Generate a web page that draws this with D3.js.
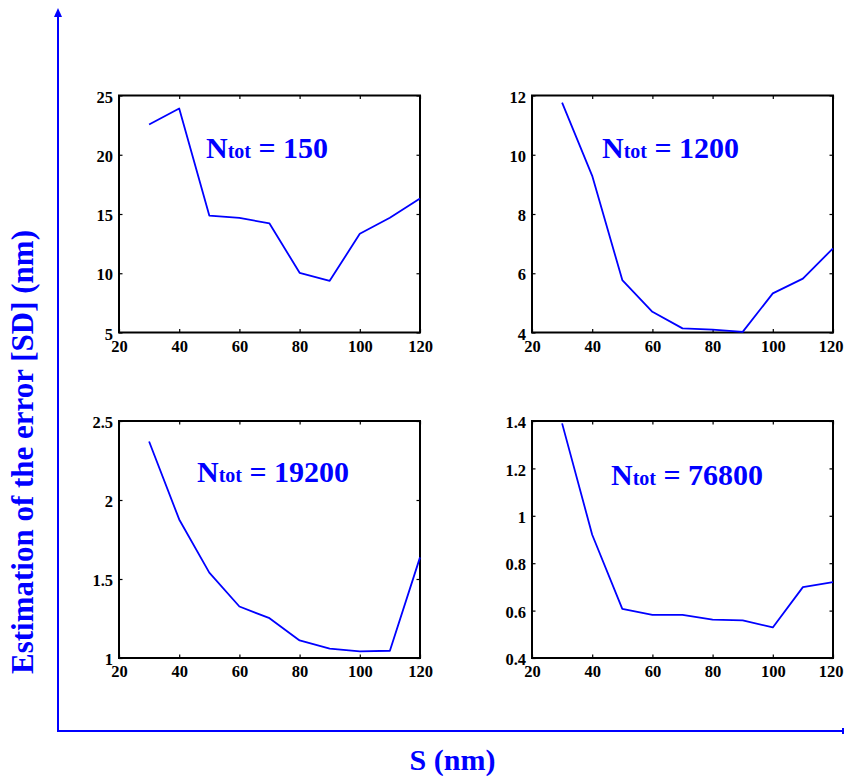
<!DOCTYPE html>
<html><head><meta charset="utf-8">
<script src="https://cdn.jsdelivr.net/npm/d3@7"></script>
<style>body{margin:0;background:#fff}svg{display:block}</style>
</head><body>
<script>
const sizes = [30, 40, 50, 60, 70, 80, 90, 100, 110, 120];
const sd150   = [22.55, 23.9, 14.87, 14.68, 14.2, 10.04, 9.36, 13.33, 14.68, 16.3];
const sd1200  = [11.76, 9.29, 5.77, 4.70, 4.14, 4.10, 4.02, 5.32, 5.82, 6.84];
const sd19200 = [2.37, 1.877, 1.54, 1.326, 1.252, 1.111, 1.059, 1.042, 1.046, 1.637];
const sd76800 = [1.39, 0.92, 0.607, 0.582, 0.582, 0.562, 0.559, 0.529, 0.699, 0.720];
const nTotLabels = ["150", "1200", "19200", "76800"];
const xTicks = [20, 40, 60, 80, 100, 120];
const yTicks150 = [5, 10, 15, 20, 25];
const yTicks1200 = [4, 6, 8, 10, 12];
const yTicks19200 = [1, 1.5, 2, 2.5];
const yTicks76800 = [0.4, 0.6, 0.8, 1, 1.2, 1.4];
const xTitle = "S (nm)";
const yTitle = "Estimation of the error [SD] (nm)";

const W = 844, H = 776;
const BLUE = "#0000ff";
const svg = d3.select("body").append("svg").attr("width", W).attr("height", H);

const panels = [
  {values: sd150, ticks: yTicks150, label: nTotLabels[0], left: 119, top: 95.5, lx: 87, ly: 62},
  {values: sd1200, ticks: yTicks1200, label: nTotLabels[1], left: 532, top: 95.5, lx: 70, ly: 62},
  {values: sd19200, ticks: yTicks19200, label: nTotLabels[2], left: 119, top: 421, lx: 78, ly: 61},
  {values: sd76800, ticks: yTicks76800, label: nTotLabels[3], left: 532, top: 421, lx: 79, ly: 64}
];
const pw = 301, ph = 237;
const font = "'Liberation Serif','Times New Roman',serif";

panels.forEach(p => {
  const g = svg.append("g").attr("transform", `translate(${p.left},${p.top})`);
  const x = d3.scaleLinear().domain([20, 120]).range([0, pw]);
  const y = d3.scaleLinear().domain(d3.extent(p.ticks)).range([ph, 0]);
  const fmt = d => String(d);
  const styleAxis = sel => {
    sel.select(".domain").remove();
    sel.selectAll("line").attr("stroke", "#000").attr("stroke-width", 1.2);
    sel.selectAll("text").attr("font-family", font).attr("font-weight", "bold")
      .attr("font-size", 16.5).attr("fill", "#000");
  };
  const gb = g.append("g").attr("transform", `translate(0,${ph})`)
    .call(d3.axisBottom(x).tickValues(xTicks).tickFormat(fmt).tickSizeInner(-3.5).tickSizeOuter(0).tickPadding(8));
  styleAxis(gb);
  gb.selectAll("text").attr("dy", "0.68em");
  // keep the last label inside the page for right-hand panels
  const room = W - 1 - (p.left + pw);
  if (room < 14) {
    gb.selectAll(".tick").filter(d => d === 120).select("text")
      .attr("text-anchor", "end").attr("x", room);
  }
  const gt = g.append("g").call(d3.axisTop(x).tickValues(xTicks).tickFormat("").tickSizeInner(-3.5).tickSizeOuter(0));
  styleAxis(gt);
  const gl = g.append("g").call(d3.axisLeft(y).tickValues(p.ticks).tickFormat(fmt).tickSizeInner(-3.5).tickSizeOuter(0).tickPadding(6));
  styleAxis(gl);
  gl.selectAll("text").attr("dy", "0.4em");
  const gr = g.append("g").attr("transform", `translate(${pw},0)`)
    .call(d3.axisRight(y).tickValues(p.ticks).tickFormat("").tickSizeInner(-3.5).tickSizeOuter(0));
  styleAxis(gr);
  g.append("rect").attr("x", 0).attr("y", 0).attr("width", pw).attr("height", ph)
    .attr("fill", "none").attr("stroke", "#000").attr("stroke-width", 2);
  const line = d3.line().x((d, i) => x(sizes[i])).y(d => y(d));
  g.append("path").datum(p.values).attr("d", line)
    .attr("fill", "none").attr("stroke", BLUE).attr("stroke-width", 1.8).attr("stroke-linejoin", "round");
  const t = g.append("text").attr("x", p.lx).attr("y", p.ly)
    .attr("font-family", font).attr("font-weight", "bold").attr("fill", BLUE).attr("font-size", 30);
  t.append("tspan").text("N");
  t.append("tspan").attr("font-size", 20).text("tot");
  t.append("tspan").text(" = " + p.label);
});

svg.append("line").attr("x1", 58).attr("y1", 731).attr("x2", 58).attr("y2", 16)
  .attr("stroke", BLUE).attr("stroke-width", 2);
svg.append("path").attr("d", "M58,8 L54,17 L62,17 Z").attr("fill", BLUE);
svg.append("line").attr("x1", 57).attr("y1", 731).attr("x2", 843).attr("y2", 731)
  .attr("stroke", BLUE).attr("stroke-width", 2);
svg.append("line").attr("x1", 843).attr("y1", 728).attr("x2", 843).attr("y2", 734)
  .attr("stroke", BLUE).attr("stroke-width", 2);

svg.append("text").attr("x", 452.5).attr("y", 770).attr("text-anchor", "middle")
  .attr("font-family", font).attr("font-weight", "bold").attr("font-size", 30).attr("fill", BLUE)
  .text(xTitle);
svg.append("text").attr("transform", "translate(33,452) rotate(-90)").attr("text-anchor", "middle")
  .attr("font-family", font).attr("font-weight", "bold").attr("font-size", 31).attr("fill", BLUE)
  .text(yTitle);
</script>
</body></html>
